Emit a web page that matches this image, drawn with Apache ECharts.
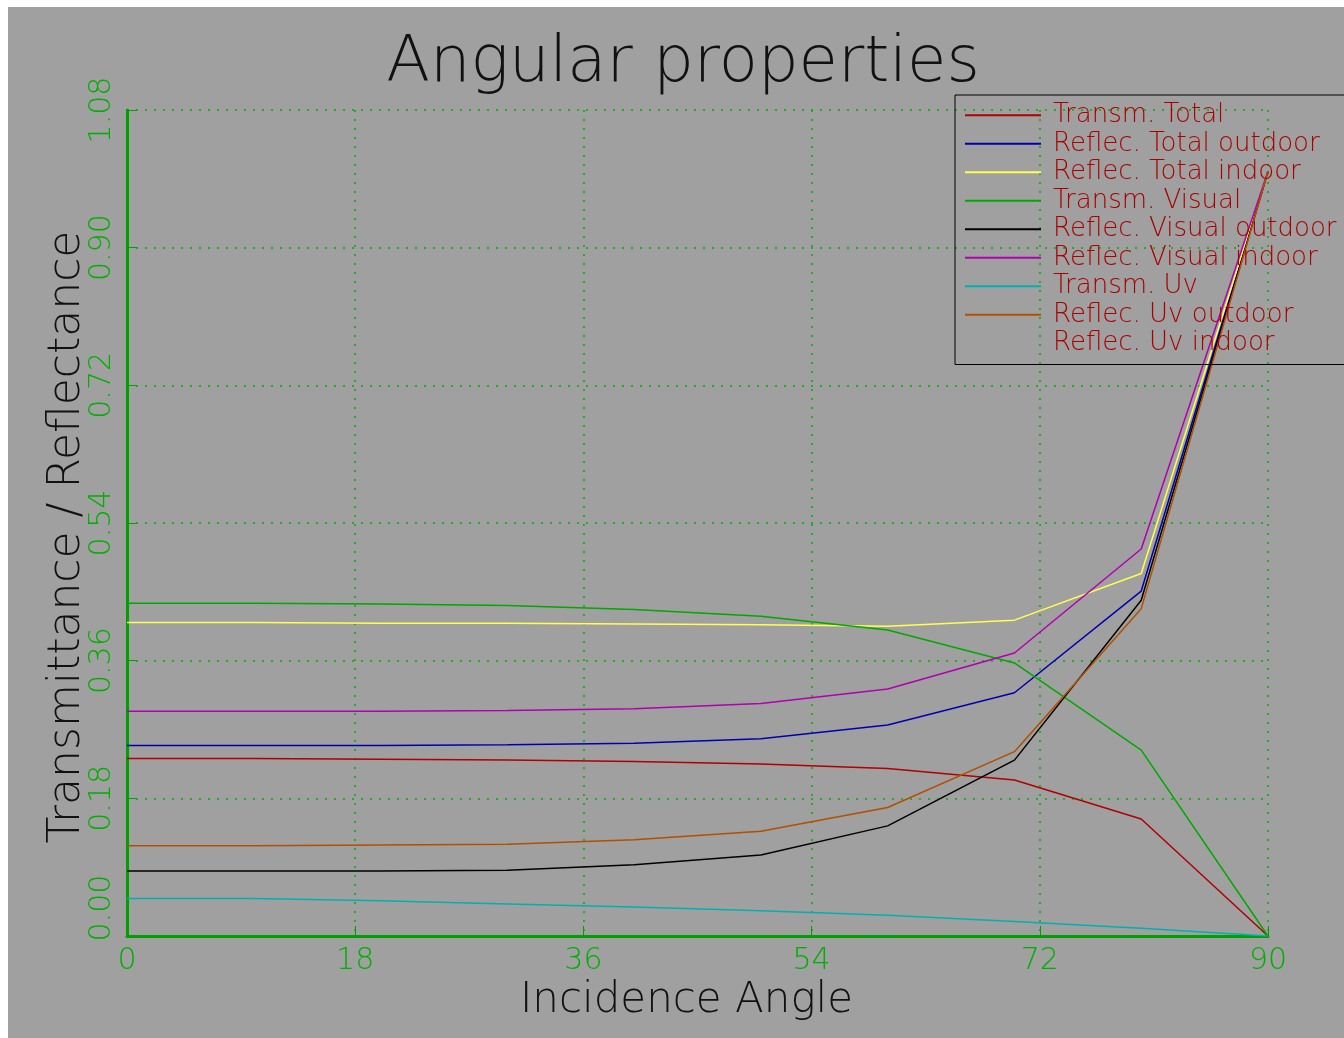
<!DOCTYPE html>
<html>
<head>
<meta charset="utf-8">
<script src="https://cdn.jsdelivr.net/npm/echarts@6/dist/echarts.min.js"></script>
<style>
html,body{margin:0;padding:0;background:#ffffff;}
#chart{width:1344px;height:1038px;}
</style>
</head>
<body>
<div id="chart"></div>
<script>
const angles = [0, 10, 20, 30, 40, 50, 60, 70, 80, 90];
const transmTotal        = [0.232, 0.232, 0.231, 0.230, 0.228, 0.225, 0.219, 0.204, 0.153, 0.0];
const reflecTotalOutdoor = [0.249, 0.249, 0.249, 0.250, 0.252, 0.258, 0.276, 0.318, 0.451, 1.0];
const reflecTotalIndoor  = [0.410, 0.410, 0.409, 0.409, 0.408, 0.407, 0.405, 0.413, 0.474, 1.0];
const transmVisual       = [0.435, 0.435, 0.434, 0.432, 0.427, 0.418, 0.400, 0.357, 0.243, 0.0];
const reflecVisualOutdoor= [0.085, 0.085, 0.085, 0.086, 0.093, 0.106, 0.144, 0.230, 0.439, 1.0];
const reflecVisualIndoor = [0.294, 0.294, 0.294, 0.295, 0.297, 0.304, 0.323, 0.370, 0.506, 1.0];
const transmUv           = [0.049, 0.049, 0.046, 0.042, 0.038, 0.033, 0.027, 0.019, 0.010, 0.0];
const reflecUvOutdoor    = [0.118, 0.118, 0.119, 0.120, 0.126, 0.137, 0.168, 0.241, 0.428, 1.0];
const reflecUvIndoor     = [];
const xTicks = [0, 18, 36, 54, 72, 90];
const yTicks = [0.00, 0.18, 0.36, 0.54, 0.72, 0.90, 1.08];

const seriesDefs = [
  ['Transm. Total', transmTotal, '#b00000'],
  ['Reflec. Total outdoor', reflecTotalOutdoor, '#0000b0'],
  ['Reflec. Total indoor', reflecTotalIndoor, '#ffff50'],
  ['Transm. Visual', transmVisual, '#00a800'],
  ['Reflec. Visual outdoor', reflecVisualOutdoor, '#000000'],
  ['Reflec. Visual indoor', reflecVisualIndoor, '#b000b0'],
  ['Transm. Uv', transmUv, '#00b0b0'],
  ['Reflec. Uv outdoor', reflecUvOutdoor, '#b05000'],
  ['Reflec. Uv indoor', reflecUvIndoor, 'rgba(0,0,0,0)']
];

const FONT = '"DejaVu Sans", Inter, sans-serif';
const chart = echarts.init(document.getElementById('chart'), null, {renderer: 'canvas'});
const option = {
  backgroundColor: '#ffffff',
  animation: false,
  graphic: [{
    type: 'rect', left: 8, top: 7, z: -100,
    shape: {width: 1336, height: 1031},
    style: {fill: '#a0a0a0'}
  }],
  title: {
    text: 'Angular properties',
    left: 678, top: 27, textAlign: 'center',
    textStyle: {fontFamily: FONT, fontWeight: 200, fontSize: 64, color: '#111111'}
  },
  legend: {
    orient: 'vertical',
    left: 955, top: 95,
    padding: [6, 80, 7, 10],
    itemGap: 0,
    itemWidth: 76, itemHeight: 2,
    icon: 'rect',
    borderColor: '#000000', borderWidth: 1,
    data: seriesDefs.map(d => d[0]),
    textStyle: {fontFamily: FONT, fontWeight: 200, fontSize: 26, color: '#aa0000', lineHeight: 28.5, padding: [0, 0, 0, 7]}
  },
  grid: {left: 127, right: 76, top: 110, bottom: 102, containLabel: false},
  xAxis: {
    type: 'value', min: 0, max: 90, interval: 18,
    name: 'Incidence Angle', nameLocation: 'middle', nameGap: 44, nameMoveOverlap: false,
    nameTextStyle: {fontFamily: FONT, fontWeight: 200, fontSize: 42, color: '#111111', padding: [0, 22, 0, 0]},
    axisLine: {show: true, lineStyle: {color: '#00a000', width: 3}},
    axisTick: {show: true, inside: true, length: 10, lineStyle: {color: '#00a000', width: 1}},
    axisLabel: {fontFamily: FONT, fontWeight: 200, fontSize: 30, color: '#00b000', margin: 10,
      formatter: v => xTicks.includes(v) ? String(v) : ''},
    splitLine: {show: true, lineStyle: {color: '#00b000', width: 1.5, type: [2, 7]}}
  },
  yAxis: {
    type: 'value', min: 0, max: 1.08, interval: 0.18,
    name: 'Transmittance / Reflectance', nameLocation: 'middle', nameGap: 37, nameRotate: 90,
    nameMoveOverlap: false,
    nameTextStyle: {fontFamily: FONT, fontWeight: 200, fontSize: 44, color: '#111111', padding: [0, 28, 0, 0]},
    axisLine: {show: true, lineStyle: {color: '#00a000', width: 3}},
    axisTick: {show: true, inside: true, length: 10, lineStyle: {color: '#00a000', width: 1}},
    axisLabel: {fontFamily: FONT, fontWeight: 200, fontSize: 30, color: '#00b000', margin: 10, rotate: 90,
      formatter: v => {
        const t = yTicks.find(y => Math.abs(y - v) < 1e-9);
        if (t === undefined) return '';
        return t === 0 ? '{z|' + t.toFixed(2) + '}' : t.toFixed(2);
      },
      rich: {z: {fontFamily: FONT, fontWeight: 200, fontSize: 30, color: '#00b000', padding: [0, 0, 0, 56]}}
    },
    splitLine: {show: true, lineStyle: {color: '#00b000', width: 1.5, type: [2, 7]}}
  },
  series: seriesDefs.map(d => ({
    name: d[0], type: 'line', symbol: 'none',
    data: d[1].map((v, i) => [angles[i], v]),
    lineStyle: {color: d[2], width: 1.5},
    itemStyle: {color: d[2]}
  }))
};
chart.setOption(option);
</script>
</body>
</html>
